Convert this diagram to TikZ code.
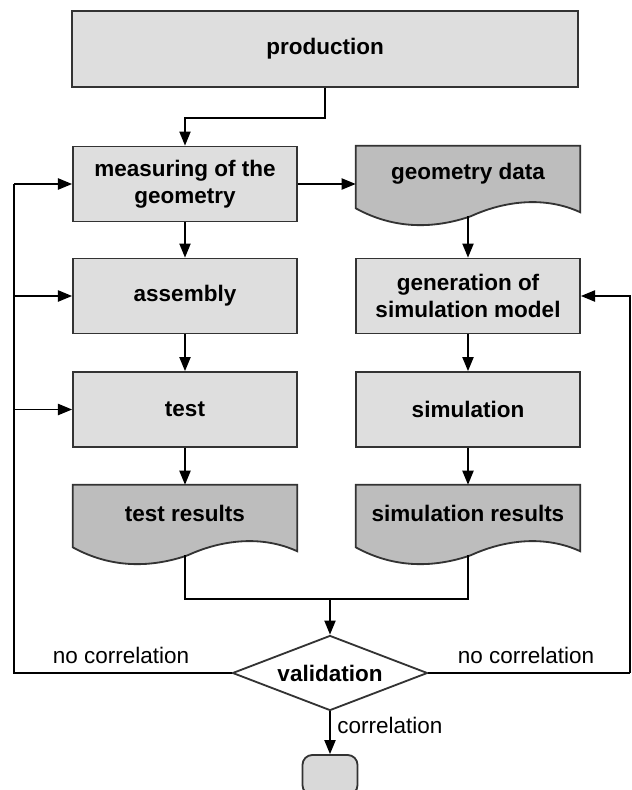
\documentclass[tikz,border=0pt]{standalone}
\usepackage{fontspec}
\setmainfont{Liberation Sans}
\usetikzlibrary{arrows.meta,shapes.geometric,calc,backgrounds}

% document symbol: flat top, wavy bottom edge
\newcommand{\docwave}[1]{%
    \draw[docline] (#1.north west) -- (#1.north east) -- ($(#1.south east)+(0,10)$)
        .. controls ($(#1.south west)+(190,-6)$) and ($(#1.south west)+(150,-2)$) .. ($(#1.south west)+(115,14)$)
        .. controls ($(#1.south west)+(80,26)$) and ($(#1.south west)+(40,28)$) .. ($(#1.south west)+(0,6)$) -- cycle;}

\begin{document}
\begin{tikzpicture}[x=0.025cm, y=-0.025cm,
    procbox/.style={draw=black!80, line width=1.3pt, fill=black!13, minimum width=5.6cm, minimum height=1.875cm,
        align=center, font=\bfseries\fontsize{16}{19.5}\selectfont, inner sep=2pt},
    docnode/.style={minimum width=5.6cm, minimum height=1.4cm, align=center,
        font=\bfseries\fontsize{16}{19.5}\selectfont, inner sep=2pt},
    docline/.style={draw=black!80, line width=1.3pt, fill=black!26},
    decision/.style={diamond, aspect=2.6, draw=black!80, line width=1.3pt, fill=white, minimum width=4.875cm,
        minimum height=1.875cm, inner sep=0pt, font=\bfseries\fontsize{16}{19.5}\selectfont},
    endnode/.style={draw=black!80, line width=1.3pt, fill=black!15, rounded corners=7pt,
        minimum width=1.375cm, minimum height=1cm},
    arr/.style={-{Triangle[length=10pt,width=8pt]}, line width=1pt},
    lbl/.style={font=\fontsize{16}{19}\selectfont}]

    \useasboundingbox (0,0) rectangle (632,790);

    % upper box
    \node[procbox, minimum width=12.65cm, minimum height=1.9cm] (prod) at (325,49) {production};

    % left column
    \node[procbox] (meas) at (185,184) {measuring of the\\geometry};
    \node[procbox] (asm) at (185,296) {assembly};
    \node[procbox] (test) at (185,409.5) {test};
    \node[docnode] (tres) at (185,513) {test results};

    % right column
    \node[docnode] (gdat) at (468,174) {geometry data};
    \node[procbox] (gen) at (468,296) {generation of\\simulation model};
    \node[procbox] (sim) at (468,409.5) {simulation};
    \node[docnode] (sres) at (468,513) {simulation results};

    % the wavy document shapes go behind their text
    \begin{scope}[on background layer]
        \docwave{gdat}
        \docwave{tres}
        \docwave{sres}
    \end{scope}

    % decision and end
    \node[decision] (val) at (330,673) {validation};
    \node[endnode] (fin) at (330,775) {};

    % feedback corners
    \coordinate (mrg) at (330,599);
    \coordinate (lbot) at (14,673);
    \coordinate (ltop) at (14,184);
    \coordinate (rbot) at (630,673);

    % main flow
    \draw[arr] (prod.south) -- ++(0,30) -| (meas.north); % production to measuring
    \draw[arr] (meas.east) -- (meas.east -| gdat.west); % measuring to geometry data
    \draw[arr] (meas) -- (asm);
    \draw[arr] (asm) -- (test);
    \draw[arr] (test) -- (tres);
    \draw[arr] ($(gdat.south)+(0,14)$) -- (gen.north); % from the wave
    \draw[arr] (gen) -- (sim);
    \draw[arr] (sim) -- (sres);

    % both results meet above validation
    \draw[line width=0.8pt] ($(tres.south)+(0,14)$) |- (mrg) -| ($(sres.south)+(0,14)$);
    \draw[arr] (mrg) -- (val.north);

    % no correlation: back to the left column
    \draw[line width=1.3pt] (val.west) -- (lbot) -- (ltop);
    \draw[arr] (ltop) -- (meas.west);
    \draw[arr] (lbot |- asm.west) -- (asm.west);
    \draw[arr] (lbot |- test.west) -- (test.west);
    \node[lbl] (ncl) at (121,655) {no correlation};

    % no correlation: back to the model
    \draw[line width=0.8pt] (val.east) -- (rbot);
    \draw[arr] (rbot) |- (gen.east);
    \node[lbl] (ncr) at (526,655) {no correlation};

    % correlation: finished
    \draw[arr] (val.south) -- (fin.north);
    \node[lbl] (cor) at (390,725) {correlation};

\end{tikzpicture}
\end{document}
